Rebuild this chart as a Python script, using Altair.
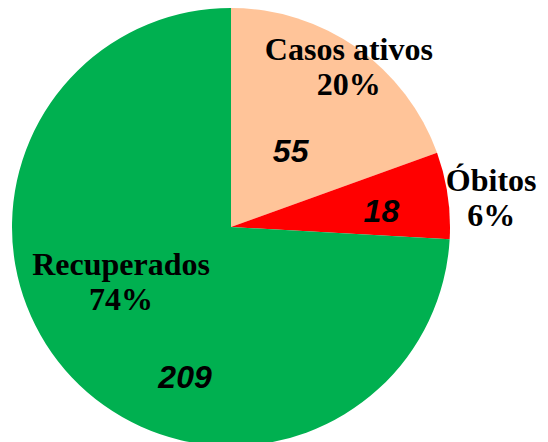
import altair as alt
import pandas as pd

names = ["Casos ativos", "Óbitos", "Recuperados"]
values = [55, 18, 209]
colors = ["#FFC499", "#FF0000", "#00B050"]

df = pd.DataFrame({"name": names, "value": values})

CX, CY, R = 223, 219, 219

base = (
    alt.Chart(df)
    .transform_window(idx="row_number()")
    .transform_joinaggregate(total="sum(value)")
    .transform_calculate(
        label="datum.name + '\\n' + format(datum.value / datum.total, '.0%')",
        num="format(datum.value, 'd')",
    )
    .encode(
        theta=alt.Theta("value:Q", stack=True),
        order=alt.Order("idx:Q"),
        x=alt.value(CX),
        y=alt.value(CY),
    )
)

pie = base.mark_arc(outerRadius=R, strokeWidth=0).encode(
    color=alt.Color("name:N", scale=alt.Scale(domain=names, range=colors), legend=None)
)

# per-slice label placement (radius, dx, dy)
name_pos = {
    "Casos ativos": (198, 4, -15),
    "Óbitos": (266, -3, -8),
    "Recuperados": (110, -30, -38),
}
num_pos = {
    "Casos ativos": (95, 5, 3),
    "Óbitos": (152, 0, 7),
    "Recuperados": (150, 63, 48),
}

layers = [pie]
for n in names:
    r, dx, dy = name_pos[n]
    layers.append(
        base.mark_text(
            radius=r, dx=dx, dy=dy, font="Liberation Serif", fontSize=32,
            fontWeight="bold", lineBreak="\n", lineHeight=35, color="#000000",
            align="center", baseline="middle",
        ).encode(text=alt.condition(f"datum.name === '{n}'", alt.Text("label:N"), alt.value("")))
    )
    r, dx, dy = num_pos[n]
    layers.append(
        base.mark_text(
            radius=r, dx=dx, dy=dy, font="Liberation Sans", fontSize=32,
            fontWeight="bold", fontStyle="italic", color="#000000",
            align="center", baseline="middle",
        ).encode(text=alt.condition(f"datum.name === '{n}'", alt.Text("num:N"), alt.value("")))
    )

chart = (
    alt.layer(*layers)
    .properties(width=532, height=434, padding=0, autosize=alt.AutoSizeParams(type="none"))
    .configure_view(stroke=None)
)

chart.save("out.html", embed_options={"renderer": "svg", "actions": False})
